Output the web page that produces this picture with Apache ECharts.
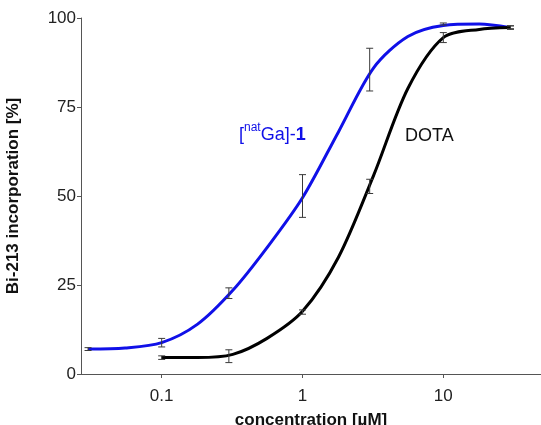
<!DOCTYPE html>
<html>
<head>
<meta charset="utf-8">
<script src="https://cdn.jsdelivr.net/npm/echarts@6/dist/echarts.min.js"></script>
<style>
html,body{margin:0;padding:0;background:#fff;}
#chart{width:541px;height:425px;}
</style>
</head>
<body>
<div id="chart"></div>
<script>
// Fitted curve of [natGa]-1 (blue)
const concBlue = [0.03, 0.055, 0.1, 0.18, 0.32, 0.56, 1, 1.8, 3.2, 5.6, 10, 18, 30];
const blueCurve = [7.0, 7.3, 8.8, 14.0, 23.5, 35.5, 49.5, 68.0, 86.0, 94.8, 97.9, 98.3, 97.3];
// Fitted curve of DOTA (black)
const concBlack = [0.1, 0.18, 0.32, 0.56, 1, 1.8, 3.2, 5.6, 10, 18, 30];
const blackCurve = [4.6, 4.6, 5.5, 10.0, 17.6, 32.8, 55.8, 80.2, 94.5, 96.8, 97.3];
// Measured means and errors
const blueErrConc = [0.03, 0.1, 0.3, 1, 3, 10, 30];
const blueMean = [7.0, 8.8, 22.7, 50, 85.5, 98.3, 97.4];
const blueErr = [0.4, 1.2, 1.5, 6, 6, 0.3, 0.4];
const blackErrConc = [0.1, 0.3, 1, 3, 10, 30];
const blackMean = [4.6, 5.0, 17.4, 52.7, 94.5, 97.3];
const blackErr = [0.5, 1.8, 0.6, 2.0, 1.4, 0.5];
const yTicks = [0, 25, 50, 75, 100];
const xTicks = [0.1, 1, 10];

const FONT = 'Liberation Sans, Arial, Helvetica, sans-serif';
const BLUE = '#1010e8';
const AXIS = '#555';

function pairs(xs, ys) { return xs.map((x, i) => [x, ys[i]]); }
function errData(xs, m, e) { return xs.map((x, i) => [x, m[i] - e[i], m[i] + e[i]]); }

function renderErr(params, api) {
  const x = api.value(0), lo = api.value(1), hi = api.value(2);
  const p1 = api.coord([x, lo]);
  const p2 = api.coord([x, hi]);
  const w = 3.5;
  const st = { stroke: '#3a3a3a', lineWidth: 1 };
  return {
    type: 'group',
    children: [
      { type: 'line', shape: { x1: p1[0], y1: p1[1], x2: p2[0], y2: p2[1] }, style: st },
      { type: 'line', shape: { x1: p1[0] - w, y1: p1[1], x2: p1[0] + w, y2: p1[1] }, style: st },
      { type: 'line', shape: { x1: p2[0] - w, y1: p2[1], x2: p2[0] + w, y2: p2[1] }, style: st }
    ]
  };
}

const chart = echarts.init(document.getElementById('chart'), null, { renderer: 'canvas' });
chart.setOption({
  animation: false,
  backgroundColor: '#fff',
  textStyle: { fontFamily: FONT },
  grid: { left: 81, right: 0, top: 18, bottom: 51, containLabel: false, outerBoundsMode: 'none' },
  xAxis: {
    type: 'log',
    logBase: 10,
    min: 0.02673,
    max: 49.4,
    name: 'concentration [µM]',
    nameLocation: 'middle',
    nameGap: 38,
    nameTextStyle: { fontFamily: FONT, fontWeight: 'bold', fontSize: 17, color: '#111' },
    axisLine: { show: true, lineStyle: { color: AXIS, width: 1 } },
    axisTick: { show: true, inside: false, length: 4, lineStyle: { color: AXIS }, customValues: xTicks },
    axisLabel: { fontFamily: FONT, fontSize: 17, color: '#222', margin: 14, customValues: xTicks,
      formatter: v => String(+v.toPrecision(6)) },
    splitLine: { show: false },
    minorTick: { show: false }
  },
  yAxis: {
    type: 'value',
    min: 0,
    max: 100,
    interval: 25,
    name: 'Bi-213 incorporation [%]',
    nameLocation: 'middle',
    nameGap: 59,
    nameTextStyle: { fontFamily: FONT, fontWeight: 'bold', fontSize: 17, color: '#111' },
    axisLine: { show: true, lineStyle: { color: AXIS, width: 1 } },
    axisTick: { show: true, inside: false, length: 4, lineStyle: { color: AXIS } },
    axisLabel: { fontFamily: FONT, fontSize: 17, color: '#222', margin: 5 },
    splitLine: { show: false }
  },
  graphic: [
    {
      type: 'text', left: 239, top: 122, z: 10,
      style: {
        text: '{a|[}{s|nat}{a|Ga]-}{b|1}',
        rich: {
          a: { fontFamily: FONT, fontSize: 18, lineHeight: 22, verticalAlign: 'bottom', fill: BLUE },
          s: { fontFamily: FONT, fontSize: 12, lineHeight: 10, verticalAlign: 'top', fill: BLUE },
          b: { fontFamily: FONT, fontSize: 18, lineHeight: 22, fontWeight: 'bold', verticalAlign: 'bottom', fill: BLUE }
        }
      }
    },
    {
      type: 'text', left: 405, top: 127, z: 10,
      style: { text: 'DOTA', fontFamily: FONT, fontSize: 18, fill: '#111' }
    }
  ],
  series: [
    {
      name: '[natGa]-1', type: 'line', data: pairs(concBlue, blueCurve),
      smooth: 0.3, showSymbol: false, symbol: 'none',
      lineStyle: { color: BLUE, width: 3 }, z: 2
    },
    {
      name: 'DOTA', type: 'line', data: pairs(concBlack, blackCurve),
      smooth: 0.3, showSymbol: false, symbol: 'none',
      lineStyle: { color: '#000', width: 3 }, z: 3
    },
    {
      type: 'custom', renderItem: renderErr, data: errData(blueErrConc, blueMean, blueErr),
      encode: { x: 0, y: [1, 2] }, z: 5
    },
    {
      type: 'custom', renderItem: renderErr, data: errData(blackErrConc, blackMean, blackErr),
      encode: { x: 0, y: [1, 2] }, z: 5
    }
  ]
});
</script>
</body>
</html>
